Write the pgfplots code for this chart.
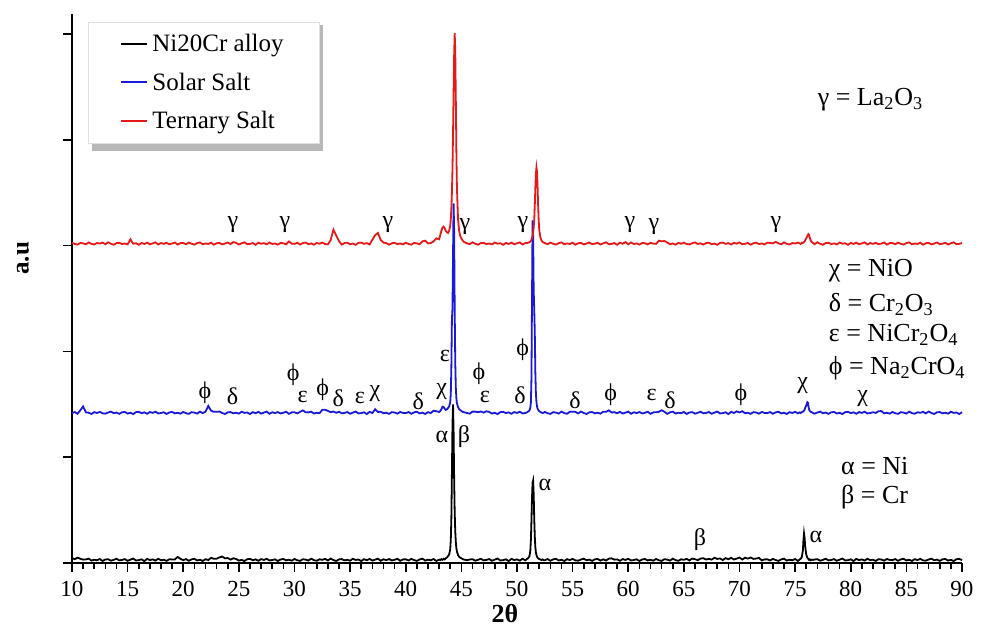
\documentclass[border=0pt]{standalone}
\usepackage{fontspec}
\setmainfont{Liberation Serif}
\usepackage{pgfplots}
\pgfplotsset{compat=1.18}
\usepackage{pgfplotstable}
\definecolor{cred}{RGB}{230,25,25}
\definecolor{cblue}{RGB}{25,25,215}

\pgfplotstableread{
x k b r
10.00 0.047 1.417 3.028
10.25 0.036 1.427 3.016
10.50 0.051 1.411 3.010
10.75 0.040 1.444 3.026
11.00 0.032 1.480 3.022
11.25 0.034 1.424 3.013
11.50 0.041 1.421 3.031
11.75 0.023 1.409 3.017
12.00 0.031 1.426 3.011
12.25 0.026 1.418 3.025
12.50 0.038 1.429 3.020
12.75 0.019 1.415 3.029
13.00 0.033 1.412 3.014
13.25 0.036 1.423 3.032
13.50 0.022 1.431 3.018
13.75 0.030 1.416 3.009
14.00 0.040 1.422 3.024
14.25 0.025 1.410 3.027
14.50 0.029 1.425 3.015
14.75 0.037 1.428 3.021
15.00 0.021 1.413 3.012
15.25 0.032 1.420 3.060
15.50 0.042 1.408 3.019
15.75 0.024 1.426 3.023
16.00 0.027 1.429 3.008
16.25 0.035 1.417 3.026
16.50 0.018 1.424 3.016
16.75 0.039 1.411 3.029
17.00 0.028 1.427 3.013
17.25 0.034 1.419 3.022
17.50 0.023 1.430 3.031
17.75 0.040 1.414 3.011
18.00 0.026 1.418 3.025
18.25 0.031 1.425 3.017
18.50 0.020 1.409 3.027
18.75 0.036 1.423 3.014
19.00 0.033 1.428 3.020
19.25 0.034 1.415 3.030
19.50 0.058 1.421 3.010
19.75 0.039 1.412 3.024
20.00 0.027 1.428 3.025
20.25 0.037 1.416 3.014
20.50 0.021 1.410 3.029
20.75 0.034 1.426 3.018
21.00 0.040 1.422 3.010
21.25 0.024 1.413 3.024
21.50 0.031 1.431 3.031
21.75 0.019 1.417 3.013
22.00 0.036 1.431 3.021
22.25 0.028 1.485 3.016
22.50 0.049 1.440 3.028
22.75 0.040 1.429 3.009
23.00 0.040 1.429 3.023
23.25 0.053 1.432 3.026
23.50 0.061 1.418 3.012
23.75 0.044 1.409 3.020
24.00 0.047 1.424 3.030
24.25 0.032 1.427 3.015
24.50 0.045 1.415 3.034
24.75 0.038 1.421 3.027
25.00 0.023 1.412 3.011
25.25 0.030 1.430 3.022
25.50 0.018 1.419 3.032
25.75 0.036 1.423 3.014
26.00 0.039 1.408 3.017
26.25 0.027 1.426 3.025
26.50 0.034 1.416 3.008
26.75 0.021 1.429 3.029
27.00 0.037 1.413 3.018
27.25 0.029 1.422 3.024
27.50 0.040 1.431 3.013
27.75 0.024 1.411 3.030
28.00 0.028 1.425 3.016
28.25 0.035 1.417 3.021
28.50 0.019 1.427 3.010
28.75 0.033 1.414 3.026
29.00 0.038 1.420 3.023
29.25 0.025 1.430 3.012
29.50 0.031 1.410 3.040
29.75 0.022 1.424 3.019
30.00 0.038 1.425 3.017
30.25 0.026 1.414 3.027
30.50 0.020 1.429 3.011
30.75 0.036 1.443 3.024
31.00 0.032 1.425 3.030
31.25 0.023 1.424 3.014
31.50 0.041 1.431 3.021
31.75 0.027 1.413 3.009
32.00 0.021 1.421 3.026
32.25 0.035 1.416 3.018
32.50 0.030 1.448 3.029
32.75 0.039 1.449 3.015
33.00 0.024 1.438 3.012
33.25 0.042 1.426 3.053
33.50 0.028 1.432 3.151
33.75 0.019 1.420 3.096
34.00 0.034 1.430 3.042
34.25 0.037 1.415 3.010
34.50 0.025 1.419 3.025
34.75 0.031 1.427 3.028
35.00 0.022 1.411 3.013
35.25 0.040 1.422 3.020
35.50 0.029 1.432 3.008
35.75 0.033 1.414 3.026
36.00 0.018 1.417 3.029
36.25 0.036 1.425 3.017
36.50 0.026 1.408 3.024
36.75 0.039 1.429 3.011
37.00 0.023 1.418 3.057
37.25 0.032 1.454 3.099
37.50 0.041 1.428 3.120
37.75 0.021 1.430 3.054
38.00 0.035 1.416 3.028
38.25 0.027 1.421 3.025
38.50 0.037 1.410 3.009
38.75 0.024 1.426 3.023
39.00 0.030 1.423 3.028
39.25 0.040 1.412 3.015
39.50 0.020 1.428 3.021
39.75 0.034 1.419 3.012
40.00 0.035 1.417 3.028
40.25 0.024 1.427 3.016
40.50 0.039 1.411 3.010
40.75 0.028 1.424 3.026
41.00 0.020 1.430 3.022
41.25 0.034 1.414 3.013
41.50 0.041 1.421 3.041
41.75 0.023 1.409 3.047
42.00 0.031 1.426 3.021
42.25 0.026 1.418 3.025
42.50 0.038 1.439 3.040
42.75 0.019 1.435 3.069
43.00 0.032 1.428 3.060
43.10 0.028 1.436 3.100
43.20 0.036 1.452 3.140
43.30 0.030 1.478 3.170
43.40 0.040 1.475 3.180
43.50 0.034 1.458 3.165
43.60 0.045 1.448 3.140
43.70 0.052 1.452 3.125
43.80 0.065 1.465 3.120
43.90 0.080 1.480 3.140
44.00 0.130 1.520 3.190
44.05 0.220 1.600 3.250
44.10 0.420 1.850 3.350
44.15 0.850 2.300 3.500
44.20 1.300 2.400 3.720
44.25 1.500 2.900 4.050
44.30 1.250 3.400 4.450
44.35 0.800 3.150 4.800
44.40 0.480 2.400 5.010
44.45 0.300 1.900 4.850
44.50 0.200 1.660 4.400
44.55 0.140 1.560 3.900
44.60 0.110 1.510 3.550
44.70 0.075 1.475 3.250
44.80 0.058 1.455 3.140
44.90 0.050 1.445 3.090
45.00 0.045 1.438 3.070
45.10 0.038 1.430 3.050
45.25 0.032 1.425 3.035
45.50 0.027 1.418 3.022
45.75 0.033 1.412 3.014
46.00 0.036 1.431 3.032
46.25 0.022 1.431 3.018
46.50 0.030 1.426 3.009
46.75 0.040 1.432 3.024
47.00 0.025 1.422 3.027
47.25 0.029 1.435 3.015
47.50 0.037 1.428 3.021
47.75 0.021 1.413 3.012
48.00 0.032 1.420 3.030
48.25 0.042 1.408 3.019
48.50 0.024 1.426 3.023
48.75 0.027 1.429 3.008
49.00 0.035 1.417 3.026
49.25 0.018 1.424 3.016
49.50 0.039 1.411 3.029
49.75 0.028 1.427 3.013
50.00 0.034 1.419 3.022
50.25 0.023 1.430 3.031
50.50 0.040 1.414 3.011
50.75 0.026 1.418 3.025
50.90 0.038 1.425 3.024
51.00 0.045 1.432 3.028
51.10 0.060 1.440 3.030
51.15 0.080 1.450 3.035
51.20 0.120 1.470 3.040
51.25 0.220 1.520 3.045
51.30 0.400 1.750 3.055
51.35 0.620 2.500 3.070
51.40 0.760 3.240 3.090
51.45 0.780 3.100 3.120
51.50 0.650 2.580 3.170
51.55 0.420 2.400 3.250
51.60 0.250 2.180 3.380
51.65 0.150 1.800 3.550
51.70 0.100 1.600 3.680
51.75 0.075 1.520 3.740
51.80 0.060 1.480 3.700
51.85 0.050 1.460 3.560
51.90 0.045 1.450 3.380
51.95 0.040 1.440 3.240
52.00 0.038 1.435 3.150
52.10 0.033 1.428 3.080
52.20 0.029 1.422 3.050
52.30 0.034 1.418 3.035
52.40 0.027 1.421 3.028
52.50 0.027 1.428 3.025
52.75 0.037 1.416 3.014
53.00 0.021 1.410 3.029
53.25 0.034 1.426 3.018
53.50 0.040 1.422 3.010
53.75 0.024 1.413 3.024
54.00 0.031 1.431 3.031
54.25 0.019 1.417 3.013
54.50 0.036 1.411 3.021
54.75 0.028 1.430 3.016
55.00 0.039 1.430 3.028
55.25 0.025 1.429 3.009
55.50 0.022 1.414 3.023
55.75 0.033 1.432 3.026
56.00 0.041 1.418 3.012
56.25 0.026 1.409 3.020
56.50 0.032 1.424 3.030
56.75 0.020 1.427 3.015
57.00 0.035 1.415 3.019
57.25 0.038 1.421 3.027
57.50 0.023 1.412 3.011
57.75 0.035 1.430 3.022
58.00 0.023 1.429 3.032
58.25 0.041 1.443 3.014
58.50 0.044 1.423 3.017
58.75 0.032 1.426 3.025
59.00 0.034 1.416 3.008
59.25 0.021 1.429 3.029
59.50 0.037 1.413 3.018
59.75 0.029 1.422 3.034
60.00 0.040 1.431 3.013
60.25 0.024 1.411 3.030
60.50 0.028 1.425 3.016
60.75 0.035 1.417 3.021
61.00 0.019 1.427 3.010
61.25 0.033 1.414 3.026
61.50 0.038 1.420 3.023
61.75 0.025 1.430 3.012
62.00 0.031 1.410 3.028
62.25 0.022 1.424 3.019
62.50 0.038 1.425 3.017
62.75 0.026 1.429 3.047
63.00 0.020 1.444 3.041
63.25 0.036 1.430 3.044
63.50 0.032 1.410 3.030
63.75 0.023 1.424 3.014
64.00 0.041 1.431 3.021
64.25 0.027 1.413 3.009
64.50 0.021 1.421 3.026
64.75 0.035 1.416 3.018
65.00 0.030 1.428 3.029
65.25 0.039 1.409 3.015
65.50 0.024 1.423 3.012
65.75 0.042 1.426 3.023
66.00 0.036 1.412 3.031
66.25 0.027 1.420 3.016
66.50 0.042 1.430 3.022
66.75 0.045 1.415 3.010
67.00 0.033 1.419 3.025
67.25 0.039 1.427 3.028
67.50 0.032 1.411 3.013
67.75 0.050 1.422 3.020
68.00 0.039 1.432 3.008
68.25 0.043 1.414 3.026
68.50 0.028 1.417 3.029
68.75 0.046 1.425 3.017
69.00 0.036 1.408 3.024
69.25 0.049 1.429 3.011
69.50 0.033 1.418 3.027
69.75 0.042 1.434 3.019
70.00 0.051 1.423 3.030
70.25 0.033 1.435 3.014
70.50 0.050 1.416 3.018
70.75 0.042 1.421 3.025
71.00 0.052 1.410 3.009
71.25 0.039 1.426 3.023
71.50 0.042 1.423 3.028
71.75 0.048 1.412 3.015
72.00 0.025 1.428 3.021
72.25 0.034 1.419 3.012
72.50 0.035 1.417 3.028
72.75 0.024 1.427 3.026
73.00 0.039 1.411 3.022
73.25 0.028 1.424 3.036
73.50 0.020 1.430 3.022
73.75 0.034 1.414 3.013
74.00 0.041 1.421 3.031
74.25 0.023 1.409 3.017
74.50 0.031 1.426 3.011
74.75 0.026 1.418 3.025
75.00 0.038 1.429 3.020
75.25 0.019 1.415 3.029
75.40 0.033 1.424 3.022
75.50 0.040 1.418 3.016
75.60 0.055 1.427 3.028
75.70 0.120 1.430 3.025
75.75 0.220 1.435 3.030
75.80 0.280 1.440 3.035
75.85 0.240 1.450 3.040
75.90 0.160 1.465 3.050
76.00 0.080 1.490 3.070
76.10 0.050 1.520 3.090
76.15 0.042 1.515 3.100
76.20 0.036 1.480 3.110
76.25 0.030 1.455 3.105
76.30 0.035 1.440 3.080
76.40 0.026 1.430 3.050
76.50 0.032 1.425 3.035
76.60 0.029 1.419 3.026
76.75 0.033 1.412 3.014
77.00 0.036 1.423 3.032
77.25 0.022 1.431 3.018
77.50 0.030 1.416 3.009
77.75 0.040 1.422 3.024
78.00 0.025 1.410 3.027
78.25 0.029 1.425 3.015
78.50 0.037 1.428 3.021
78.75 0.021 1.413 3.012
79.00 0.032 1.420 3.030
79.25 0.042 1.408 3.019
79.50 0.024 1.426 3.023
79.75 0.027 1.429 3.008
80.00 0.035 1.417 3.026
80.25 0.018 1.424 3.016
80.50 0.039 1.411 3.029
80.75 0.028 1.427 3.013
81.00 0.034 1.419 3.022
81.25 0.023 1.430 3.031
81.50 0.040 1.414 3.011
81.75 0.026 1.418 3.025
82.00 0.031 1.425 3.017
82.25 0.020 1.419 3.027
82.50 0.036 1.435 3.014
82.75 0.033 1.436 3.020
83.00 0.022 1.415 3.030
83.25 0.038 1.421 3.010
83.50 0.029 1.412 3.024
83.75 0.027 1.428 3.025
84.00 0.037 1.416 3.014
84.25 0.021 1.410 3.029
84.50 0.034 1.426 3.018
84.75 0.040 1.422 3.010
85.00 0.024 1.413 3.024
85.25 0.031 1.431 3.031
85.50 0.019 1.417 3.013
85.75 0.036 1.411 3.021
86.00 0.028 1.425 3.016
86.25 0.039 1.420 3.028
86.50 0.025 1.429 3.009
86.75 0.022 1.414 3.023
87.00 0.033 1.432 3.026
87.25 0.041 1.418 3.012
87.50 0.026 1.409 3.020
87.75 0.032 1.424 3.030
88.00 0.020 1.427 3.015
88.25 0.035 1.415 3.019
88.50 0.038 1.421 3.027
88.75 0.023 1.412 3.011
89.00 0.030 1.430 3.022
89.25 0.018 1.419 3.032
89.50 0.036 1.423 3.014
89.75 0.039 1.408 3.017
90.00 0.027 1.426 3.025
}\xrd

\tikzset{lab/.style={font=\fontsize{12}{14}\selectfont, inner sep=0pt, anchor=center},
         phase/.style={font=\fontsize{13}{15}\selectfont, inner sep=0pt, anchor=west}}

\begin{document}
\begin{tikzpicture}
\path[use as bounding box] (-36pt,-35.5pt) rectangle (454.5pt,281.5pt);
\begin{axis}[
  scale only axis, width=445pt, height=274.5pt,
  xmin=10, xmax=90, ymin=0, ymax=5.19,
  axis lines=left, axis line style={-, line width=0.8pt},
  xtick={10,15,...,90}, minor x tick num=4,
  ytick={0,1,2,3,4,5}, yticklabels={},
  tick align=outside, major tick length=4.5pt, minor tick length=2.8pt,
  tick style={black, line width=0.8pt},
  /pgf/number format/assume math mode=true,
  xticklabel style={font=\fontsize{11.5}{13}\selectfont, yshift=-1pt},
  xlabel={\textbf{2θ}},
  xlabel style={at={(axis description cs:0.4865,-0.092)}, anchor=center, inner sep=0pt, font=\fontsize{13}{15}\selectfont},
  ylabel={\textbf{a.u}},
  ylabel style={at={(axis description cs:-0.055,0.555)}, anchor=center, font=\fontsize{12.5}{14}\selectfont},
  clip=false,
  legend cell align=left,
  legend image code/.code={\draw[#1, line width=1pt] (0pt,0.5pt) -- (13pt,0.5pt);},
  legend style={at={(0.018,0.985)}, anchor=north west, draw=black!12, fill=white,
    font=\fontsize{12.5}{14}\selectfont, inner xsep=16pt, inner ysep=4pt, row sep=5pt},
]
\addplot[black, line width=0.9pt] table[x=x,y=k]{\xrd};
\addlegendentry{Ni20Cr alloy}
\addplot[cblue, line width=0.9pt] table[x=x,y=b]{\xrd};
\addlegendentry{Solar Salt}
\addplot[cred, line width=0.9pt] table[x=x,y=r]{\xrd};
\addlegendentry{Ternary Salt}

% legend shadow (drawn before the legend box, which pgfplots draws last)
\fill[black!28] (axis description cs:0.0222,0.7510) rectangle (axis description cs:0.2822,0.9800);

% red labels
\node[lab] at (axis cs:24.47,3.20) {γ};
\node[lab] at (axis cs:29.15,3.20) {γ};
\node[lab] at (axis cs:38.40,3.20) {γ};
\node[lab] at (axis cs:45.33,3.18) {γ};
\node[lab] at (axis cs:50.54,3.20) {γ};
\node[lab] at (axis cs:60.16,3.20) {γ};
\node[lab] at (axis cs:62.30,3.18) {γ};
\node[lab] at (axis cs:73.28,3.20) {γ};
\node[phase] at (axis cs:77.0,4.38) {γ = La\textsubscript{2}O\textsubscript{3}};

% blue labels
\node[lab] at (axis cs:21.96,1.607) {ϕ};
\node[lab] at (axis cs:24.44,1.572) {δ};
\node[lab] at (axis cs:29.89,1.777) {ϕ};
\node[lab] at (axis cs:30.73,1.572) {ε};
\node[lab] at (axis cs:32.53,1.642) {ϕ};
\node[lab] at (axis cs:33.94,1.557) {δ};
\node[lab] at (axis cs:35.89,1.557) {ε};
\node[lab] at (axis cs:37.24,1.604) {χ};
\node[lab] at (axis cs:41.13,1.525) {δ};
\node[lab] at (axis cs:43.23,1.619) {χ};
\node[lab] at (axis cs:43.53,1.957) {ε};
\node[lab] at (axis cs:46.58,1.793) {ϕ};
\node[lab] at (axis cs:47.12,1.566) {ε};
\node[lab] at (axis cs:50.27,1.588) {δ};
\node[lab] at (axis cs:50.51,2.013) {ϕ};
\node[lab] at (axis cs:55.21,1.541) {δ};
\node[lab] at (axis cs:58.42,1.588) {ϕ};
\node[lab] at (axis cs:62.10,1.588) {ε};
\node[lab] at (axis cs:63.75,1.541) {δ};
\node[lab] at (axis cs:70.13,1.588) {ϕ};
\node[lab] at (axis cs:75.68,1.682) {χ};
\node[lab] at (axis cs:81.07,1.557) {χ};
\node[phase] at (axis cs:78.0,2.765) {χ = NiO};
\node[phase] at (axis cs:78.0,2.445) {δ = Cr\textsubscript{2}O\textsubscript{3}};
\node[phase] at (axis cs:78.0,2.155) {ε = NiCr\textsubscript{2}O\textsubscript{4}};
\node[phase] at (axis cs:78.0,1.840) {ϕ = Na\textsubscript{2}CrO\textsubscript{4}};

% black labels
\node[lab] at (axis cs:43.26,1.191) {α};
\node[lab] at (axis cs:45.24,1.191) {β};
\node[lab] at (axis cs:52.52,0.737) {α};
\node[lab] at (axis cs:66.45,0.217) {β};
\node[lab] at (axis cs:76.88,0.246) {α};
\node[phase] at (axis cs:79.1,0.917) {α = Ni};
\node[phase] at (axis cs:79.1,0.624) {β = Cr};
\end{axis}
\end{tikzpicture}
\end{document}
